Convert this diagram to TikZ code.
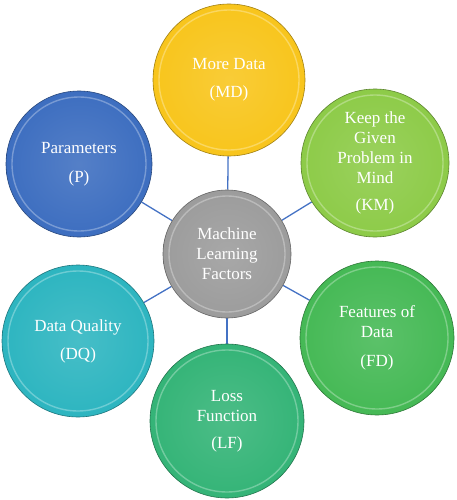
\documentclass[tikz,border=0pt]{standalone}
\usepackage{fontspec}
\setmainfont{Liberation Serif}
\usetikzlibrary{backgrounds}
\definecolor{cMD}{HTML}{F8C51C}
\definecolor{cP}{HTML}{3D6EC0}
\definecolor{cKM}{HTML}{8DCB48}
\definecolor{cFD}{HTML}{45B955}
\definecolor{cLF}{HTML}{34B477}
\definecolor{cDQ}{HTML}{2DB5C0}
\definecolor{cC}{HTML}{9C9C9C}
\definecolor{link}{HTML}{4472C4}
\begin{document}
\begin{tikzpicture}[x=1pt,y=-1pt,
  ball/.style={circle, inner sep=0pt, align=center, text=white,
    font=\fontsize{17}{20}\selectfont,
    inner color=#1!88!white, outer color=#1,
    draw=#1!65!black, line width=0.6pt},
  ring/.style={draw=white, opacity=0.3, line width=1.4pt},
  conn/.style={draw=link, line width=1.3pt}]
\useasboundingbox (0,0) rectangle (456,500);
\node[ball=cC, minimum size=128pt] (c) at (227,254) {Machine\\Learning\\Factors};
\node[ball=cMD, minimum size=152pt] (md) at (229,80) {More Data\\[8pt](MD)};
\node[ball=cKM, minimum size=148pt] (km) at (375,163) {Keep the\\Given\\Problem in\\Mind\\[7pt](KM)};
\node[ball=cFD, minimum size=154pt] (fd) at (377,338) {Features of\\Data\\[9pt](FD)};
\node[ball=cLF, minimum size=154pt] (lf) at (227,421) {Loss\\Function\\[7pt](LF)};
\node[ball=cDQ, minimum size=152pt] (dq) at (78,341) {Data Quality\\[8pt](DQ)};
\node[ball=cP, minimum size=146pt] (p) at (79,164) {Parameters\\[9pt](P)};
\foreach \n/\r in {c/58,md/70,km/68,fd/71,lf/71,dq/70,p/67}
  \draw[ring] (\n.center) circle[radius=\r];
\begin{scope}[on background layer]
  \foreach \n in {md,km,fd,lf,dq,p}
    \draw[conn] (c) -- (\n);
\end{scope}
\end{tikzpicture}
\end{document}
